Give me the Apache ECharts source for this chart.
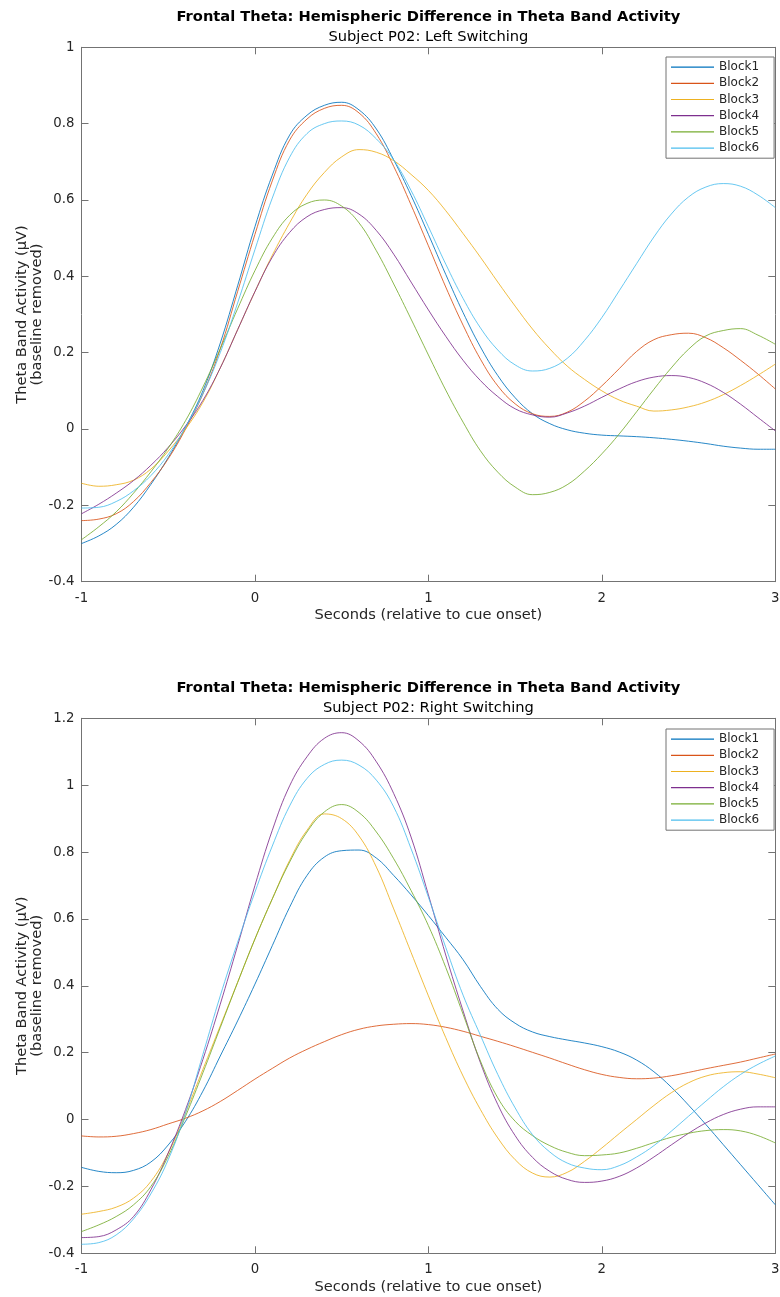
<!DOCTYPE html>
<html>
<head>
<meta charset="utf-8">
<title>Frontal Theta: Hemispheric Difference</title>
<script src="https://cdn.jsdelivr.net/npm/echarts@6/dist/echarts.min.js"></script>
<style>
  html, body { margin: 0; padding: 0; background: #ffffff; }
  #chart { width: 780px; height: 1297px; }
</style>
</head>
<body>
<div id="chart"></div>
<script>
// Time samples (seconds relative to cue onset)
const timeSec = [-1.0, -0.9, -0.8, -0.7, -0.6, -0.5, -0.4, -0.3, -0.2, -0.1,
                 0.0, 0.1, 0.2, 0.3, 0.4, 0.5, 0.6, 0.7, 0.8, 0.9,
                 1.0, 1.1, 1.2, 1.3, 1.4, 1.5, 1.6, 1.7, 1.8, 1.9,
                 2.0, 2.1, 2.2, 2.3, 2.4, 2.5, 2.6, 2.7, 2.8, 2.9, 3.0];

const blockNames = ['Block1', 'Block2', 'Block3', 'Block4', 'Block5', 'Block6'];

// Left switching, theta band difference (µV), per block
const leftBlock1 = [-0.30, -0.28, -0.25, -0.205, -0.145, -0.075, 0.005, 0.10, 0.225, 0.375,
                    0.53, 0.665, 0.77, 0.822, 0.848, 0.856, 0.836, 0.786, 0.705, 0.612,
                    0.51, 0.405, 0.305, 0.215, 0.14, 0.082, 0.04, 0.014, -0.002, -0.011,
                    -0.016, -0.018, -0.02, -0.023, -0.027, -0.032, -0.038, -0.045, -0.05, -0.053, -0.053];
const leftBlock2 = [-0.24, -0.236, -0.222, -0.19, -0.14, -0.078, 0.0, 0.092, 0.21, 0.36,
                    0.51, 0.65, 0.757, 0.812, 0.84, 0.848, 0.828, 0.773, 0.688, 0.587,
                    0.48, 0.372, 0.272, 0.183, 0.113, 0.066, 0.04, 0.033, 0.044, 0.073,
                    0.113, 0.158, 0.203, 0.234, 0.247, 0.251, 0.239, 0.213, 0.18, 0.144, 0.105];
const leftBlock3 = [-0.142, -0.15, -0.146, -0.134, -0.105, -0.058, 0.0, 0.07, 0.16, 0.26,
                    0.36, 0.455, 0.54, 0.615, 0.672, 0.713, 0.732, 0.725, 0.703, 0.667,
                    0.625, 0.572, 0.512, 0.45, 0.385, 0.322, 0.262, 0.21, 0.165, 0.13,
                    0.10, 0.076, 0.06, 0.047, 0.05, 0.058, 0.071, 0.09, 0.114, 0.141, 0.17];
const leftBlock4 = [-0.222, -0.197, -0.168, -0.135, -0.095, -0.048, 0.008, 0.075, 0.16, 0.26,
                    0.36, 0.45, 0.515, 0.556, 0.575, 0.58, 0.563, 0.52, 0.458, 0.385,
                    0.312, 0.243, 0.18, 0.127, 0.085, 0.053, 0.037, 0.031, 0.042, 0.06,
                    0.083, 0.105, 0.124, 0.136, 0.14, 0.135, 0.12, 0.096, 0.065, 0.03, -0.005];
const leftBlock5 = [-0.29, -0.256, -0.217, -0.168, -0.112, -0.05, 0.022, 0.11, 0.21, 0.315,
                    0.415, 0.50, 0.56, 0.591, 0.60, 0.584, 0.54, 0.467, 0.38, 0.288,
                    0.194, 0.102, 0.018, -0.057, -0.113, -0.152, -0.172, -0.166, -0.146, -0.11,
                    -0.065, -0.013, 0.045, 0.104, 0.16, 0.209, 0.244, 0.258, 0.263, 0.246, 0.222];
const leftBlock6 = [-0.207, -0.205, -0.19, -0.162, -0.122, -0.067, 0.005, 0.092, 0.20, 0.33,
                    0.47, 0.605, 0.712, 0.774, 0.80, 0.807, 0.796, 0.76, 0.705, 0.625,
                    0.53, 0.432, 0.342, 0.265, 0.207, 0.168, 0.152, 0.159, 0.185, 0.232,
                    0.292, 0.362, 0.433, 0.503, 0.563, 0.608, 0.634, 0.643, 0.636, 0.613, 0.58];

// Right switching, theta band difference (µV), per block
const rightBlock1 = [-0.143, -0.155, -0.159, -0.152, -0.127, -0.076, -0.005, 0.085, 0.19, 0.295,
                     0.405, 0.52, 0.635, 0.73, 0.785, 0.804, 0.806, 0.782, 0.73, 0.672,
                     0.61, 0.545, 0.478, 0.398, 0.33, 0.288, 0.262, 0.248, 0.238, 0.229,
                     0.218, 0.202, 0.178, 0.143, 0.097, 0.043, -0.015, -0.075, -0.135, -0.195, -0.255];
const rightBlock2 = [-0.049, -0.052, -0.05, -0.042, -0.03, -0.013, 0.004, 0.026, 0.054, 0.087,
                     0.121, 0.153, 0.184, 0.21, 0.233, 0.254, 0.27, 0.28, 0.285, 0.287,
                     0.284, 0.276, 0.264, 0.249, 0.234, 0.218, 0.201, 0.184, 0.166, 0.149,
                     0.135, 0.126, 0.122, 0.124, 0.131, 0.141, 0.152, 0.162, 0.172, 0.184, 0.196];
const rightBlock3 = [-0.283, -0.275, -0.262, -0.235, -0.185, -0.10, 0.02, 0.15, 0.28, 0.41,
                     0.54, 0.66, 0.775, 0.865, 0.914, 0.90, 0.848, 0.755, 0.63, 0.50,
                     0.37, 0.245, 0.13, 0.03, -0.055, -0.12, -0.16, -0.172, -0.158, -0.125,
                     -0.085, -0.042, 0.0, 0.042, 0.08, 0.11, 0.13, 0.14, 0.143, 0.136, 0.125];
const rightBlock4 = [-0.353, -0.35, -0.33, -0.29, -0.21, -0.10, 0.03, 0.18, 0.345, 0.52,
                     0.70, 0.865, 0.998, 1.085, 1.14, 1.157, 1.132, 1.07, 0.975, 0.845,
                     0.672, 0.492, 0.325, 0.17, 0.045, -0.048, -0.113, -0.155, -0.179, -0.188,
                     -0.184, -0.17, -0.145, -0.112, -0.076, -0.041, -0.01, 0.015, 0.031, 0.038, 0.038];
const rightBlock5 = [-0.335, -0.315, -0.29, -0.255, -0.20, -0.11, 0.01, 0.14, 0.275, 0.41,
                     0.54, 0.66, 0.77, 0.86, 0.92, 0.942, 0.918, 0.86, 0.78, 0.685,
                     0.58, 0.455, 0.315, 0.175, 0.065, -0.005, -0.048, -0.078, -0.098, -0.108,
                     -0.106, -0.10, -0.086, -0.069, -0.053, -0.041, -0.033, -0.03, -0.034, -0.048, -0.07];
const rightBlock6 = [-0.373, -0.368, -0.345, -0.297, -0.222, -0.12, 0.02, 0.195, 0.37, 0.53,
                     0.68, 0.818, 0.938, 1.02, 1.062, 1.075, 1.06, 1.015, 0.935, 0.81,
                     0.665, 0.515, 0.372, 0.252, 0.135, 0.035, -0.045, -0.097, -0.13, -0.145,
                     -0.15, -0.138, -0.112, -0.078, -0.035, 0.01, 0.055, 0.098, 0.135, 0.165, 0.19];

const leftSeries = [leftBlock1, leftBlock2, leftBlock3, leftBlock4, leftBlock5, leftBlock6];
const rightSeries = [rightBlock1, rightBlock2, rightBlock3, rightBlock4, rightBlock5, rightBlock6];

// Axis ranges and tick steps
const xRange = { min: -1, max: 3, interval: 1 };
const leftYRange = { min: -0.4, max: 1, interval: 0.2 };
const rightYRange = { min: -0.4, max: 1.2, interval: 0.2 };

const mainTitle = 'Frontal Theta: Hemispheric Difference in Theta Band Activity';
const subTitles = ['Subject P02: Left Switching', 'Subject P02: Right Switching'];
const xAxisName = 'Seconds (relative to cue onset)';
const yAxisName = 'Theta Band Activity (µV)\n(baseline removed)';

const palette = ['#0072BD', '#D95319', '#EDB120', '#7E2F8E', '#77AC30', '#4DBEEE'];
const FONT = 'DejaVu Sans';
const TEXT = '#262626';
const FRAME = '#737373';

const grids = [
  { left: 81.5, right: 4.7, top: 47.3, height: 534.4, containLabel: false, outerBoundsMode: 'none' },
  { left: 81.5, right: 4.7, top: 718.3, height: 535, containLabel: false, outerBoundsMode: 'none' }
];

function xAxes(gridIndex) {
  const common = {
    gridIndex, type: 'value', min: xRange.min, max: xRange.max, interval: xRange.interval,
    axisLine: { show: true, onZero: false, lineStyle: { color: FRAME, width: 1 } },
    axisTick: { show: true, inside: true, length: 7, lineStyle: { color: FRAME } },
    splitLine: { show: false }
  };
  return [
    Object.assign({}, common, {
      position: 'bottom',
      axisLabel: { color: TEXT, fontFamily: FONT, fontSize: 13.3, margin: 10 },
      name: xAxisName, nameLocation: 'middle', nameGap: 26, nameMoveOverlap: false,
      nameTextStyle: { color: TEXT, fontFamily: FONT, fontSize: 14.6 }
    }),
    Object.assign({}, common, { position: 'top', axisLabel: { show: false } })
  ];
}

function yAxes(gridIndex, range) {
  const common = {
    gridIndex, type: 'value', min: range.min, max: range.max, interval: range.interval,
    axisLine: { show: true, onZero: false, lineStyle: { color: FRAME, width: 1 } },
    axisTick: { show: true, inside: true, length: 7, lineStyle: { color: FRAME } },
    splitLine: { show: false }
  };
  return [
    Object.assign({}, common, {
      position: 'left',
      axisLabel: { color: TEXT, fontFamily: FONT, fontSize: 13.3, margin: 7 },
      name: yAxisName, nameLocation: 'middle', nameRotate: 90, nameGap: 36, nameMoveOverlap: false,
      nameTextStyle: { color: TEXT, fontFamily: FONT, fontSize: 14.6, lineHeight: 15.7, align: 'center' }
    }),
    Object.assign({}, common, { position: 'right', axisLabel: { show: false } })
  ];
}

function makeSeries(sets, axisIndex) {
  return sets.map((vals, i) => ({
    name: blockNames[i],
    type: 'line',
    xAxisIndex: axisIndex,
    yAxisIndex: axisIndex,
    data: timeSec.map((t, k) => [t, vals[k]]),
    smooth: 0.4,
    symbol: 'none',
    showSymbol: false,
    silent: true,
    lineStyle: { width: 0.85, color: palette[i] },
    itemStyle: { color: palette[i] },
    z: 2 + i
  }));
}

function makeLegend(top) {
  return {
    data: blockNames,
    orient: 'vertical',
    left: 666, top: top,
    icon: 'rect', itemWidth: 43, itemHeight: 1.2, itemGap: 0,
    padding: [2, 15, 2, 5],
    borderColor: FRAME, borderWidth: 1, backgroundColor: '#ffffff',
    selectedMode: false,
    textStyle: { color: TEXT, fontFamily: FONT, fontSize: 12, lineHeight: 16.2 }
  };
}

function titleAt(text, top, bold) {
  return {
    text, left: 428.4, top, textAlign: 'center', padding: 0,
    textStyle: { color: '#000000', fontFamily: FONT, fontSize: 14.67, fontWeight: bold ? 'bold' : 'normal' }
  };
}

const chart = echarts.init(document.getElementById('chart'), null, { renderer: 'canvas' });
chart.setOption({
  animation: false,
  backgroundColor: '#ffffff',
  color: palette,
  title: [
    titleAt(mainTitle, 10, true),
    titleAt(subTitles[0], 29.5, false),
    titleAt(mainTitle, 681, true),
    titleAt(subTitles[1], 700.5, false)
  ],
  legend: [makeLegend(57), makeLegend(729)],
  grid: grids,
  xAxis: xAxes(0).concat(xAxes(1)),
  yAxis: yAxes(0, leftYRange).concat(yAxes(1, rightYRange)),
  series: makeSeries(leftSeries, 0).concat(makeSeries(rightSeries, 2))
});
</script>
</body>
</html>
